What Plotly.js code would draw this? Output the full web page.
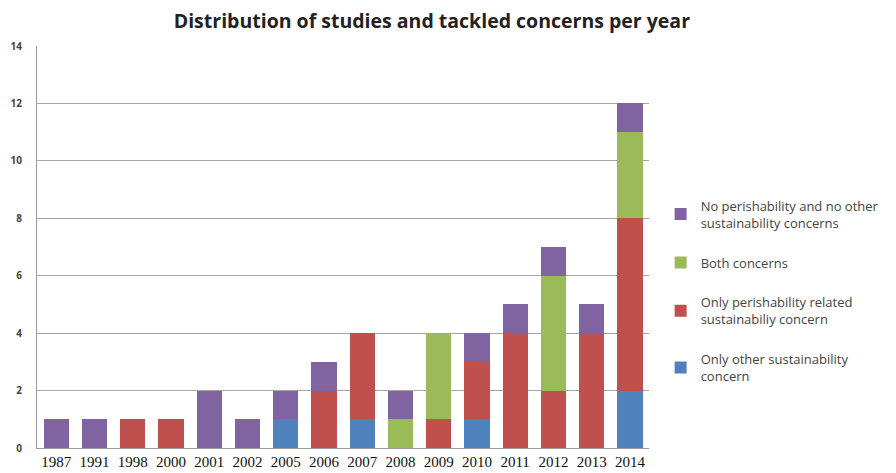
<!DOCTYPE html>
<html>
<head>
<meta charset="utf-8">
<script src="https://cdn.plot.ly/plotly-3.0.1.min.js"></script>
<style>html,body{margin:0;padding:0;background:#fff;}#chart{width:896px;height:473px;}</style>
</head>
<body>
<div id="chart"></div>
<script>
const years = ["1987","1991","1998","2000","2001","2002","2005","2006","2007","2008","2009","2010","2011","2012","2013","2014"];
const onlyOther       = [0,0,0,0,0,0,1,0,1,0,0,1,0,0,0,2];
const onlyPerish      = [0,0,1,1,0,0,0,2,3,0,1,2,4,2,4,6];
const bothConcerns    = [0,0,0,0,0,0,0,0,0,1,3,0,0,4,0,3];
const noConcerns      = [1,1,0,0,2,1,1,1,0,1,0,1,1,1,1,1];
const seriesNames = [
  "Only other sustainability<br>concern",
  "Only perishability related<br>sustainabiliy concern",
  "Both concerns",
  "No perishability and no other<br>sustainability concerns"
];
const colors = ["#4F81BD","#C0504D","#9BBB59","#8064A2"];
const values = [onlyOther, onlyPerish, bothConcerns, noConcerns];

const data = values.map((v,i)=>({
  type:"bar", x:years, y:v, name:seriesNames[i], legendgroup:"g"+i, legendrank:1000-i,
  marker:{color:colors[i], line:{width:0}}, hoverinfo:"x+y+name"
}));

const layout = {
  width:896, height:473,
  margin:{l:37, r:227, t:46, b:25},
  paper_bgcolor:"#fff", plot_bgcolor:"#fff",
  barmode:"stack", bargap:0.34,
  title:{text:"<b>Distribution of studies and tackled concerns per year</b>", x:0.482, xanchor:"center", y:0.955, yanchor:"middle",
         font:{family:"Open Sans, sans-serif", size:19.5, color:"#222"}},
  xaxis:{type:"category", showgrid:false, showline:true, linecolor:"#999", linewidth:1, ticks:"",
         tickfont:{family:"Liberation Serif, serif", size:15, color:"#111"}, automargin:false},
  yaxis:{range:[0,14], dtick:2, showgrid:true, gridcolor:"#a6a6a6", gridwidth:1, zeroline:false,
         showline:true, linecolor:"#999", linewidth:1, ticks:"", ticklabelstandoff:12,
         tickfont:{family:"Open Sans, sans-serif", size:10, color:"#444", weight:"bold"}, automargin:false},
  showlegend:true,
  legend:{x:1.019, xanchor:"left", y:0.39, yanchor:"middle", traceorder:"grouped",
          tracegroupgap:20, itemwidth:30,
          font:{family:"Open Sans, sans-serif", size:13, color:"#444"}, bgcolor:"rgba(0,0,0,0)"}
};
Plotly.newPlot("chart", data, layout, {displayModeBar:false, staticPlot:true});
</script>
</body>
</html>
